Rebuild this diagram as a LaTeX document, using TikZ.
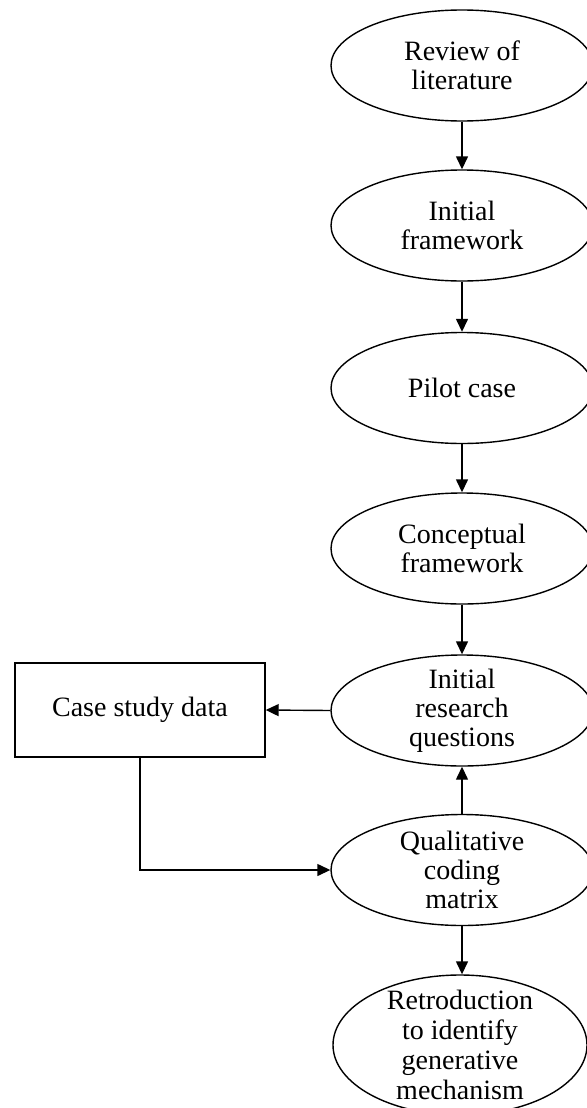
\documentclass[tikz,border=0pt]{standalone}
\usepackage{fontspec}
\setmainfont{Liberation Serif}
\usetikzlibrary{shapes.geometric, arrows.meta}

\tikzset{
    stage/.style={draw, ellipse, line width=0.7pt, minimum width=131pt, minimum height=55.5pt,
        inner xsep=0pt, inner ysep=-4pt, align=center, font=\fontsize{14pt}{14.5pt}\selectfont},
    databox/.style={draw, rectangle, line width=0.7pt, minimum width=125pt, minimum height=47pt,
        font=\fontsize{14pt}{14.5pt}\selectfont},
    flow/.style={line width=0.7pt, -{Triangle[length=6.5pt, width=6pt]}}
}

\begin{document}
\begin{tikzpicture}[x=0.5pt, y=-0.5pt]
        \useasboundingbox (0,0) rectangle (586,1108);
        \node[stage] (lit) at (462,65.5) {Review of\\literature};
        \node[stage] (initfw) at (462,225.5) {Initial\\framework};
        \node[stage] (pilot) at (462,388) {Pilot case};
        \node[stage] (concfw) at (462,548.5) {Conceptual\\framework};
        \node[stage] (irq) at (462,710.5) {Initial\\research\\questions};
        \node[stage] (coding) at (462,870) {Qualitative\\coding\\matrix};
        \node[stage, minimum width=127pt, minimum height=70pt, font=\fontsize{14pt}{15pt}\selectfont] (retro) at (460,1045)
            {Retroduction\\to identify\\generative\\mechanism};
        \node[databox] (data) at (140,710) {Case study data};
        \foreach \a/\b in {lit/initfw, initfw/pilot, pilot/concfw, concfw/irq, coding/irq}
            \draw[flow] (\a) -- (\b);
        \draw[flow] (coding.south) -- (coding.south |- retro.north);
        \draw[flow] (irq.west) -- (data.east);
        \draw[flow] (data.south) |- (coding.west);
    \end{tikzpicture}
\end{document}
